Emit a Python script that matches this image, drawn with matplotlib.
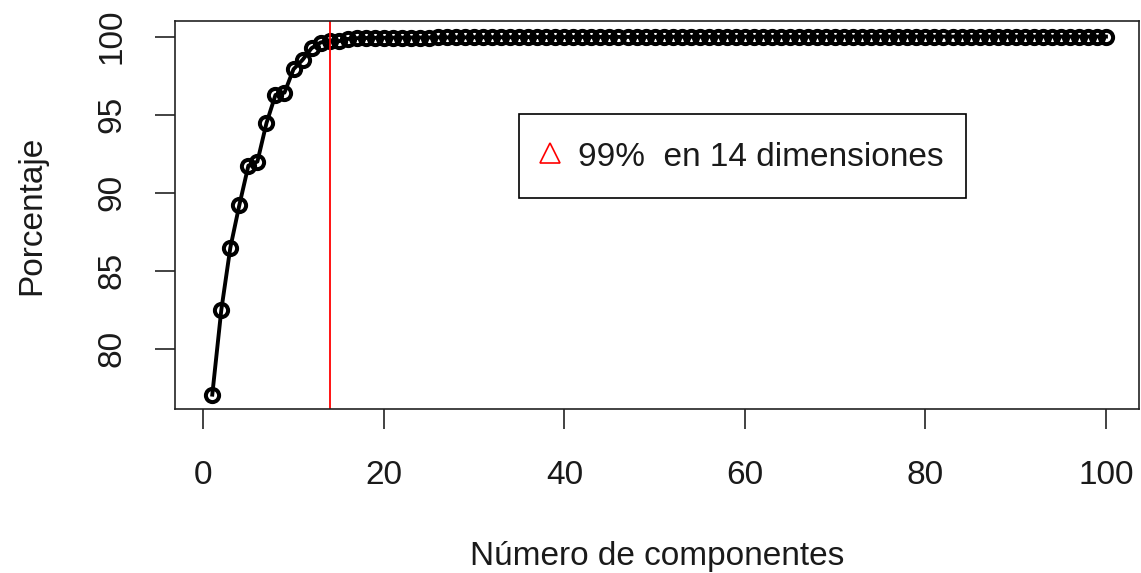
import matplotlib
matplotlib.use("Agg")
import matplotlib.pyplot as plt
from matplotlib.patches import Rectangle
from matplotlib.lines import Line2D
import numpy as np

# ---------------- datos ----------------
componentes = np.arange(1, 101)
porcentaje = [
    77.05, 82.48, 86.47, 89.21, 91.73, 91.99, 94.45, 96.26, 96.41, 97.91,
    98.51, 99.26, 99.62, 99.75, 99.70, 99.85, 99.90, 99.91, 99.92, 99.92,
    99.93, 99.93, 99.94, 99.94, 99.94, 99.95, 99.95, 99.95, 99.95, 99.96,
    99.96, 99.96, 99.96, 99.96, 99.97, 99.97, 99.97, 99.97, 99.97, 99.97,
    99.97, 99.98, 99.98, 99.98, 99.98, 99.98, 99.98, 99.98, 99.98, 99.98,
    99.98, 99.99, 99.99, 99.99, 99.99, 99.99, 99.99, 99.99, 99.99, 99.99,
    99.99, 99.99, 99.99, 99.99, 99.99, 99.99, 99.99, 99.99, 99.99, 99.99,
    100.0, 100.0, 100.0, 100.0, 100.0, 100.0, 100.0, 100.0, 100.0, 100.0,
    100.0, 100.0, 100.0, 100.0, 100.0, 100.0, 100.0, 100.0, 100.0, 100.0,
    100.0, 100.0, 100.0, 100.0, 100.0, 100.0, 100.0, 100.0, 100.0, 100.0,
]
corte = 14
leyenda = "99%  en 14 dimensiones"
xticks = [0, 20, 40, 60, 80, 100]
yticks = [80, 85, 90, 95, 100]

plt.rcParams["font.family"] = ["Liberation Sans", "DejaVu Sans"]
txt_color = "#1a1a1a"

W, H = 1141, 573
fig = plt.figure(figsize=(W / 100, H / 100), dpi=100)

# caja del grafico en pixeles
x0, x1, y0, y1 = 175, 1139, 21, 409
ax = fig.add_axes([x0 / W, 1 - y1 / H, (x1 - x0) / W, (y1 - y0) / H])

ax.plot(componentes, porcentaje, color="black", lw=2.8,
        marker="o", ms=9.5, mfc="none", mec="black", mew=2.9)
ax.axvline(corte, color="red", lw=1.3)

ax.set_xlim(-3.13, 103.66)
ax.set_ylim(76.13, 101.0)

ax.set_xticks(xticks)
ax.set_yticks(yticks)
ax.tick_params(axis="both", length=14.5, width=1.2, color="#222222",
               labelsize=24, labelcolor=txt_color)
ax.tick_params(axis="x", pad=22)
ax.tick_params(axis="y", labelrotation=90, pad=20)
for lab in ax.get_yticklabels():
    lab.set_va("center")
for s in ax.spines.values():
    s.set_linewidth(1.2)
    s.set_color("#222222")

fig.text((x0 + x1) / 2 / W, 1 - 556 / H, "Número de componentes",
         ha="center", va="center", fontsize=24, color=txt_color)
fig.text(32 / W, 1 - 215 / H, "Porcentaje", rotation=90,
         ha="center", va="center", fontsize=24, color=txt_color)

# leyenda
fig.patches.append(Rectangle((519 / W, 1 - 198 / H), (966 - 519) / W,
                             (198 - 114) / H, transform=fig.transFigure,
                             fill=False, edgecolor="black", lw=1.2))
fig.lines.append(Line2D([550 / W], [1 - 153 / H], transform=fig.transFigure,
                        marker="^", ms=15, mfc="none", mec="red", mew=1.2))
fig.text(578 / W, 1 - 157 / H, leyenda, ha="left", va="center",
         fontsize=24, color=txt_color)

fig.savefig("out.png", dpi=100)
